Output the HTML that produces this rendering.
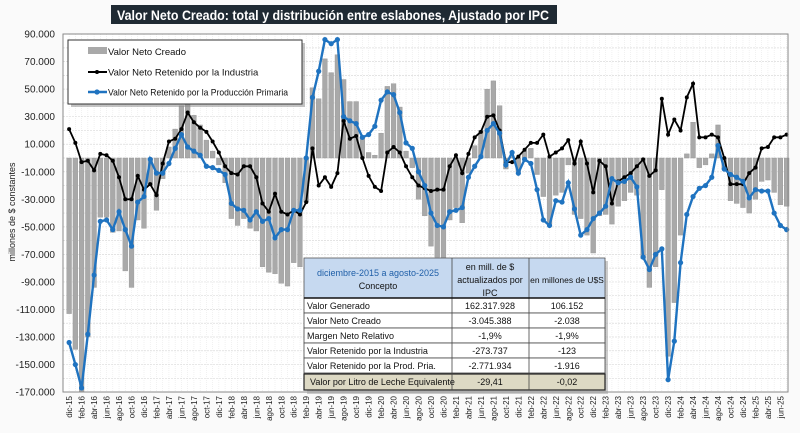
<!DOCTYPE html>
<html><head><meta charset="utf-8"><style>
body{margin:0;background:#fff;font-family:"Liberation Sans","DejaVu Sans",sans-serif;}
#wrap{position:relative;width:800px;height:433px;overflow:hidden;background:#fafafa;}
svg{position:absolute;left:0;top:0;}
</style></head><body><div id="wrap">
<svg id="s" width="800" height="433" xmlns="http://www.w3.org/2000/svg"></svg>
</div>
<script>
var blk=[21,11,-3,-2,-9,3,2,-2,-14,-30,-30,-13,-23,-19,-27,-4,12,14,21,33,26,22,19,12,4,-6,-11,-12,-6,-6,-14,-33,-39,-26,-39,-41,-38,-41,-32,7,
-20,-14,-21,-11,27,14,16,0,-13,-21,-24,4,8,4,-6,-14,-20,-22,-24,-23,-23,-6,2,-11,3,15,19,30,31,20,-3,-3,1,6,11,11,17,
1,4,7,13,-4,12,-4,-25,-2,-6,-33,-17,-14,-11,-6,-1,-13,-9,43,17,28,20,44,54,15,15,17,15,0,-19,-19,-19,-11,-7,7,8,15,15,17];
var blu=[-134,-150,-167,-128,-85,-46,-45,-52,-39,-52,-64,-32,-28,-1,-11,-11,-4,7,17,8,5,2,-6,-7,-9,-12,-33,-37,-38,-45,-39,-46,-44,-58,-52,-52,-38,-38,0,44,
63,86,83,86,30,27,25,15,17,23,42,48,46,33,11,7,-10,-20,-40,-49,-50,-39,-38,-36,-14,-6,1,20,25,18,-5,4,-11,-1,-4,-23,-45,
-49,-31,-32,-18,-37,-56,-52,-44,-40,-35,-15,-18,-17,-14,-21,-72,-81,-70,-66,-161,-133,-76,-41,-28,-22,-20,-14,9,-8,-12,-14,-17,-29,-23,-24,-24,-40,-49,-52];
var n=blk.length,L=63,R=788,T=34,B=392;
var step=(R-L)/(n+0.2);
function X(i){return L+3+step*(i+0.5)}
function Y(v){return 158-v*1.377}
var h='';
h+='<rect x="'+L+'" y="'+T+'" width="'+(R-L)+'" height="'+(B-T)+'" fill="#fff"/>';
for(var i=0;i<n;i++){h+='<line x1="'+X(i)+'" y1="'+T+'" x2="'+X(i)+'" y2="'+B+'" stroke="#e8e8e8" stroke-width="0.6" stroke-dasharray="1,1"/>';}
for(var v=-170;v<=90;v+=10){h+='<line x1="'+L+'" y1="'+Y(v)+'" x2="'+R+'" y2="'+Y(v)+'" stroke="#dcdcdc" stroke-width="0.7" stroke-dasharray="2,1"/>';}
for(var v=-170;v<=90;v+=20){var a=Math.abs(v);var s=(v<0?'-':'')+(a>=100?Math.floor(a/100)+('0'+a%100).slice(-2):a)+'.000';
h+='<text x="55" y="'+(Y(v)+3.5)+'" font-size="10" text-anchor="end" fill="#222">'+s+'</text>';}
for(var i=0;i<n;i++){var t=blk[i]+blu[i];var y0=Y(0),y1=Y(t);
h+='<rect x="'+(X(i)-2.4)+'" y="'+Math.min(y0,y1)+'" width="4.8" height="'+Math.abs(y1-y0)+'" fill="#a9a9a9" stroke="#959595" stroke-width="0.4"/>';}
function line(a,c,w,r){var p=a.map(function(v,i){return X(i).toFixed(1)+','+Y(v).toFixed(1)}).join(' ');
var o='<polyline points="'+p+'" fill="none" stroke="'+c+'" stroke-width="'+w+'"/>';
a.forEach(function(v,i){o+='<circle cx="'+X(i)+'" cy="'+Y(v)+'" r="'+r+'" fill="'+c+'"/>'});return o;}
h+=line(blk,'#000',1.8,2);
h+=line(blu,'#1f73c0',2.4,2.6);
h+='<rect x="'+L+'" y="'+T+'" width="'+(R-L)+'" height="'+(B-T)+'" fill="none" stroke="#888" stroke-width="1"/>';
var m=['dic','ene','feb','mar','abr','may','jun','jul','ago','sep','oct','nov'];
for(var i=0;i<n;i+=2){var yr=15+Math.floor((i+11)/12);var lab=m[i%12]+'-'+yr;
h+='<text transform="translate('+(X(i)+3)+',396) rotate(-90)" font-size="8" text-anchor="end" fill="#222">'+lab+'</text>';}
h+='<text transform="translate(15,212) rotate(-90)" font-size="9" text-anchor="middle" fill="#222">millones de $ constantes</text>';
// title
h+='<rect x="111" y="5" width="446" height="19" fill="#1f2a33"/>';
h+='<text x="117" y="20" font-size="14" font-weight="bold" fill="#fff" textLength="432" lengthAdjust="spacingAndGlyphs">Valor Neto Creado: total y distribución entre eslabones, Ajustado  por IPC</text>';
// legend
h+='<rect x="71" y="43" width="234" height="64" fill="#888" opacity="0.5"/>';
h+='<rect x="68" y="40" width="234" height="64" fill="#fff" stroke="#333" stroke-width="1"/>';
h+='<rect x="88" y="47" width="19" height="7" fill="#a9a9a9"/>';
h+='<text x="108" y="55" font-size="9.5" fill="#111">Valor Neto Creado</text>';
h+='<line x1="88" y1="72" x2="107" y2="72" stroke="#000" stroke-width="2"/><circle cx="97" cy="72" r="2" fill="#000"/>';
h+='<text x="108" y="75.5" font-size="9.5" fill="#111">Valor Neto Retenido por la Industria</text>';
h+='<line x1="88" y1="92" x2="107" y2="92" stroke="#1f73c0" stroke-width="2.4"/><circle cx="97" cy="92" r="2.6" fill="#1f73c0"/>';
h+='<text x="108" y="95.5" font-size="9.5" fill="#111" textLength="180" lengthAdjust="spacingAndGlyphs">Valor Neto Retenido por la Producción Primaria</text>';
// table
h+='<rect x="307" y="261" width="301" height="133" fill="#999" opacity="0.5"/>';
h+='<rect x="304" y="258" width="301" height="40" fill="#c6d9f0" stroke="#555" stroke-width="0.8"/>';
h+='<text x="378" y="276" font-size="9" fill="#1f5fa8" text-anchor="middle">diciembre-2015 a agosto-2025</text>';
h+='<text x="378" y="289" font-size="9" fill="#111" text-anchor="middle">Concepto</text>';
h+='<text x="490" y="270" font-size="9" fill="#111" text-anchor="middle">en mill. de $</text>';
h+='<text x="490" y="283" font-size="9" fill="#111" text-anchor="middle">actualizados por</text>';
h+='<text x="490" y="296" font-size="9" fill="#111" text-anchor="middle">IPC</text>';
h+='<text x="567" y="283" font-size="8.5" fill="#111" text-anchor="middle">en millones de U$S</text>';
var rows=[['Valor Generado','162.317.928','106.152'],['Valor Neto Creado','-3.045.388','-2.038'],['Margen Neto Relativo','-1,9%','-1,9%'],['Valor Retenido por la Industria','-273.737','-123'],['Valor Retenido por la Prod. Pria.','-2.771.934','-1.916']];
var ry=298;
rows.forEach(function(r){h+='<rect x="304" y="'+ry+'" width="301" height="15" fill="#fff" stroke="#444" stroke-width="0.8"/>';
h+='<text x="307" y="'+(ry+11)+'" font-size="9" fill="#111">'+r[0]+'</text>';
h+='<text x="490" y="'+(ry+11)+'" font-size="9" fill="#111" text-anchor="middle">'+r[1]+'</text>';
h+='<text x="567" y="'+(ry+11)+'" font-size="9" fill="#111" text-anchor="middle">'+r[2]+'</text>';ry+=15;});
h+='<rect x="304" y="'+(ry+1)+'" width="301" height="16" fill="#ddd9c4" stroke="#222" stroke-width="1.2"/>';
h+='<text x="310" y="'+(ry+12)+'" font-size="9" fill="#111">Valor por Litro de Leche Equivalente</text>';
h+='<text x="490" y="'+(ry+12)+'" font-size="9" fill="#111" text-anchor="middle">-29,41</text>';
h+='<text x="567" y="'+(ry+12)+'" font-size="9" fill="#111" text-anchor="middle">-0,02</text>';
h+='<line x1="452" y1="258" x2="452" y2="'+(ry+17)+'" stroke="#444" stroke-width="0.8"/>';
h+='<line x1="529" y1="258" x2="529" y2="'+(ry+17)+'" stroke="#444" stroke-width="0.8"/>';
h+='<line x1="304" y1="298" x2="605" y2="298" stroke="#111" stroke-width="1.5"/>';
document.getElementById('s').innerHTML=h;
</script>
</body></html>
